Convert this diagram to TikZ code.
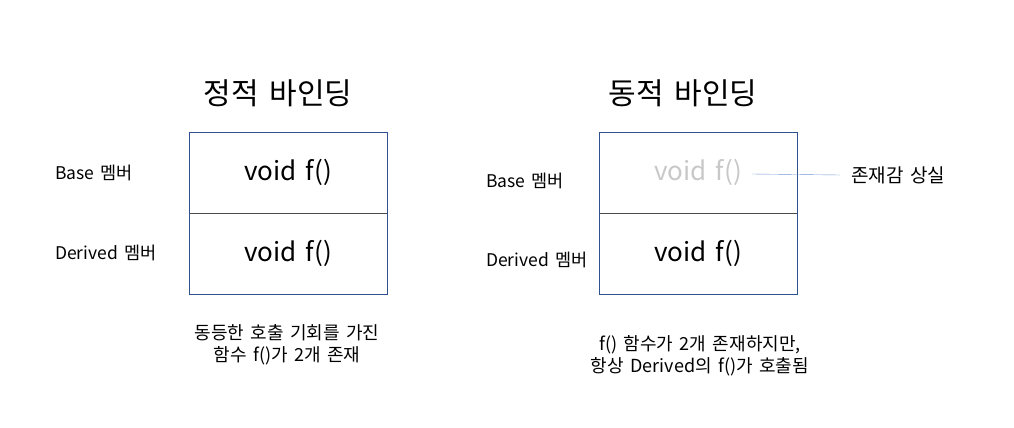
\documentclass[tikz,border=0pt]{standalone}
\usepackage{fontspec}
\setmainfont{Noto Sans CJK KR}[WordSpace=1.6]
\usetikzlibrary{positioning}
\definecolor{boxblue}{RGB}{47,82,143}
\definecolor{linkblue}{RGB}{114,150,210}
\definecolor{fadegray}{RGB}{200,200,200}

\begin{document}
\begin{tikzpicture}[
    x=1pt, y=-1pt,
    member/.style={rectangle, draw=black!70, minimum width=198pt, minimum height=81pt,
                   inner sep=0pt, font=\fontsize{26}{30}\selectfont},
    title/.style={font=\fontsize{30}{34}\selectfont},
    label/.style={font=\fontsize{17.5}{20}\selectfont, anchor=west, inner sep=0pt},
    note/.style={font=\fontsize{18}{22}\selectfont, align=center}]

  \useasboundingbox (0,0) rectangle (1014,428);

  % Static binding
  \node (stitle) [title] at (278,93) {정적 바인딩};
  \node (sbase) [member] at (288,172.5) {void f()};
  \node (sder) [member, below=0pt of sbase] {void f()};
  \draw [boxblue] (sbase.north west) rectangle (sder.south east);
  \node (sbasel) [label] at (55,173) {Base 멤버};
  \node (sderl) [label] at (55,253) {Derived 멤버};
  \node (snote) [note] at (287,345) {동등한 호출 기회를 가진\\함수 f()가 2개 존재};

  % Dynamic binding
  \node (dtitle) [title] at (683,93) {동적 바인딩};
  \node (dbase) [member, text=fadegray] at (698,172.5) {void f()};
  \node (dder) [member, below=0pt of dbase] {void f()};
  \draw [boxblue] (dbase.north west) rectangle (dder.south east);
  \node (dbasel) [label] at (486,181) {Base 멤버};
  \node (dderl) [label] at (486,260) {Derived 멤버};
  \node (lost) [label, font=\fontsize{19}{22}\selectfont] at (851,175) {존재감 상실};
  \coordinate (loststart) at (752,174);
  \coordinate (lostend) at (840,175);
  \draw [linkblue] (loststart) -- (lostend);
  \node (dnote) [note] at (700,356) {f() 함수가 2개 존재하지만,\\항상 Derived의 f()가 호출됨};
\end{tikzpicture}
\end{document}
